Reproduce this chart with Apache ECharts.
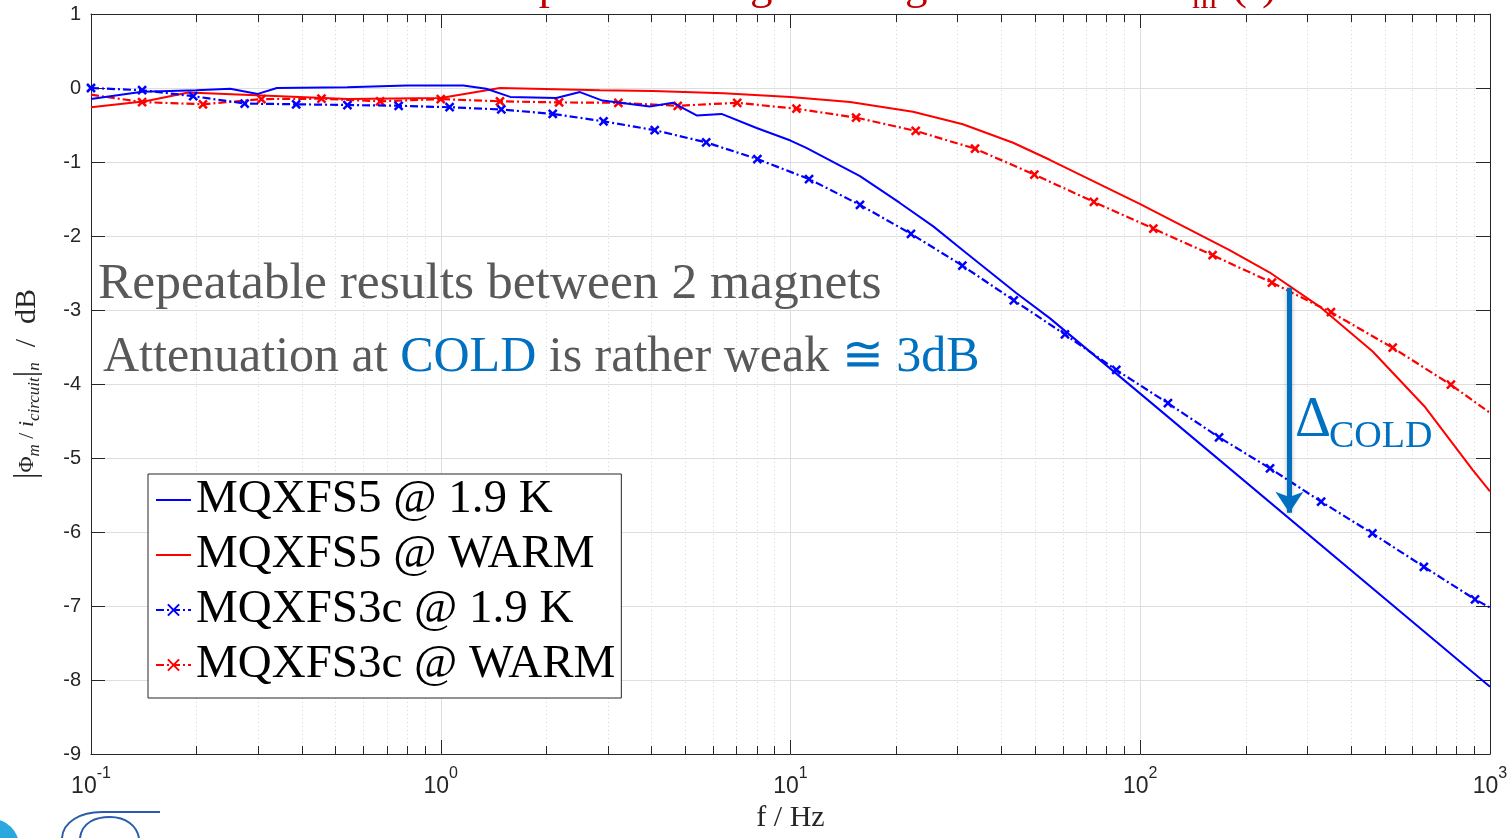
<!DOCTYPE html>
<html>
<head>
<meta charset="utf-8">
<script src="https://cdn.jsdelivr.net/npm/echarts@6/dist/echarts.min.js"></script>
<style>
  html, body { margin: 0; padding: 0; background: #fff; }
  #chart { width: 1512px; height: 838px; }
</style>
</head>
<body>
<div id="chart"></div>
<script>
// series names
var names = ['MQXFS5 @ 1.9 K', 'MQXFS5 @ WARM', 'MQXFS3c @ 1.9 K', 'MQXFS3c @ WARM'];

// MQXFS5 @ 1.9 K (solid blue)
var fS5Cold = [0.1, 0.14, 0.2, 0.25, 0.3, 0.34, 0.54, 0.8, 1.16, 1.35, 1.58, 2.14, 2.5, 2.9, 3.96, 4.62, 5.39, 6.35, 8.0, 10, 11.1, 15.8, 20.5, 25.6, 31.8, 44.2, 55.1, 100, 1000];
var vS5Cold = [-0.15, -0.05, -0.03, -0.01, -0.08, 0.0, 0.01, 0.035, 0.035, -0.01, -0.12, -0.135, -0.055, -0.17, -0.25, -0.2, -0.37, -0.35, -0.54, -0.71, -0.81, -1.19, -1.55, -1.87, -2.23, -2.77, -3.11, -4.13, -8.09];

// MQXFS5 @ WARM (solid red)
var fS5Warm = [0.1, 0.143, 0.19, 0.543, 1.0, 1.477, 2.85, 4.04, 6.43, 10, 14.8, 22.4, 31.1, 43.3, 55.1, 100, 180, 234, 325, 462, 649, 892, 1000];
var vS5Warm = [-0.26, -0.18, -0.06, -0.15, -0.135, 0.0, -0.03, -0.04, -0.07, -0.12, -0.19, -0.32, -0.49, -0.74, -0.97, -1.57, -2.19, -2.49, -2.95, -3.56, -4.30, -5.16, -5.45];

// MQXFS3c @ 1.9 K (dash-dot blue, x markers)
var fS3Cold = [0.1, 0.14, 0.196, 0.275, 0.386, 0.541, 0.758, 1.06, 1.49, 2.09, 2.92, 4.09, 5.74, 8.04, 11.3, 15.8, 22.1, 31.0, 43.5, 60.9, 85.4, 120, 168, 235, 329, 461, 647, 906, 1000];
var vS3Cold = [0.0, -0.03, -0.11, -0.21, -0.22, -0.23, -0.24, -0.26, -0.29, -0.35, -0.45, -0.57, -0.735, -0.96, -1.23, -1.58, -1.97, -2.40, -2.87, -3.33, -3.81, -4.26, -4.72, -5.14, -5.59, -6.02, -6.47, -6.91, -7.02];

// MQXFS3c @ WARM (dash-dot red, x markers)
var fS3Warm = [0.1, 0.14, 0.209, 0.307, 0.456, 0.671, 1.0, 1.477, 2.18, 3.22, 4.76, 7.04, 10.4, 15.4, 22.8, 33.7, 49.8, 73.7, 109, 161, 238, 351, 527, 773, 1000];
var vS3Warm = [-0.09, -0.19, -0.22, -0.15, -0.145, -0.18, -0.15, -0.18, -0.195, -0.2, -0.24, -0.2, -0.28, -0.40, -0.58, -0.82, -1.17, -1.54, -1.90, -2.26, -2.63, -3.03, -3.51, -4.01, -4.39];

// minor log grid positions
var minorF = [0.2, 0.3, 0.4, 0.5, 0.6, 0.7, 0.8, 0.9,
              2, 3, 4, 5, 6, 7, 8, 9,
              20, 30, 40, 50, 60, 70, 80, 90,
              200, 300, 400, 500, 600, 700, 800, 900];

// Delta_COLD arrow (frequency, from, to)
var arrowF = 267;
var arrowFrom = -2.70;
var arrowTo = -5.74;

var xMark = 'path://M0,0L10,10M10,0L0,10';
var blue = '#0000ff', red = '#ff0000', annot = '#0070c0', gray = '#595959';
var axisCol = '#262626';
var dashDot = [8, 3, 2, 3];

function pairs(f, v, noMarkEnds) {
  return f.map(function (x, i) {
    var item = { value: [x, v[i]] };
    if (noMarkEnds && (noMarkEnds.indexOf(i) >= 0)) item.symbol = 'none';
    return item;
  });
}

function supLabel(val) {
  var e = Math.round(Math.log10(val));
  return '{b|10}{s|' + e + '}';
}

var hidden = { color: 'rgba(0,0,0,0)', borderColor: 'rgba(0,0,0,0)', borderWidth: 0 };

var chart = echarts.init(document.getElementById('chart'));
var option = {
  animation: false,
  backgroundColor: '#fff',
  grid: { left: 91, right: 22, top: 14, bottom: 84 },
  legend: {
    data: [
      { name: names[0], itemStyle: hidden },
      { name: names[1], itemStyle: hidden },
      { name: names[2] },
      { name: names[3] }
    ],
    orient: 'vertical',
    left: 148, top: 474,
    itemWidth: 35, itemHeight: 14, itemGap: 7,
    padding: [2, 6, 9, 7],
    borderColor: axisCol, borderWidth: 1,
    backgroundColor: '#fff',
    selectedMode: false,
    textStyle: { fontFamily: 'Liberation Serif', fontSize: 47, color: '#000', lineHeight: 48 }
  },
  xAxis: [{
    type: 'log', logBase: 10, min: 0.1, max: 1000,
    name: 'f / Hz', nameLocation: 'middle', nameGap: 48,
    nameTextStyle: { fontFamily: 'Liberation Serif', fontSize: 30, color: axisCol },
    axisLine: { onZero: false, lineStyle: { color: axisCol, width: 1 } },
    axisTick: { inside: true, length: 14, lineStyle: { color: axisCol } },
    axisLabel: {
      margin: 12,
      formatter: supLabel,
      rich: {
        b: { fontFamily: 'Liberation Sans', fontSize: 23, color: axisCol, lineHeight: 32, verticalAlign: 'bottom' },
        s: { fontFamily: 'Liberation Sans', fontSize: 16, color: axisCol, lineHeight: 16, verticalAlign: 'top' }
      }
    },
    splitLine: { show: true, lineStyle: { color: '#dedede', width: 1 } }
  }, {
    type: 'log', logBase: 10, min: 0.1, max: 1000, position: 'top',
    axisLine: { onZero: false, lineStyle: { color: axisCol, width: 1 } },
    axisTick: { inside: true, length: 14, lineStyle: { color: axisCol } },
    axisLabel: { show: false },
    splitLine: { show: false }
  }],
  yAxis: [{
    type: 'value', min: -9, max: 1, interval: 1,
    name: '{v||}{f|Φ}{fs|m}{f| / }{fi|i}{fs|circuit}{v||}{fs|n}{u|  /  dB}',
    nameLocation: 'middle', nameGap: 48, nameRotate: 90,
    nameTextStyle: {
      rich: {
        v: { fontFamily: 'Liberation Serif', fontSize: 32, color: axisCol },
        f: { fontFamily: 'Liberation Serif', fontSize: 22, color: axisCol },
        fi: { fontFamily: 'Liberation Serif', fontSize: 22, fontStyle: 'italic', color: axisCol },
        fs: { fontFamily: 'Liberation Serif', fontSize: 17, fontStyle: 'italic', color: axisCol, verticalAlign: 'bottom' },
        u: { fontFamily: 'Liberation Serif', fontSize: 30, color: axisCol }
      }
    },
    axisLine: { show: true, onZero: false, lineStyle: { color: axisCol, width: 1 } },
    axisTick: { show: true, inside: true, length: 14, lineStyle: { color: axisCol } },
    axisLabel: { fontFamily: 'Liberation Sans', fontSize: 20, color: axisCol, margin: 10 },
    splitLine: { show: true, lineStyle: { color: '#dedede', width: 1 } }
  }, {
    type: 'value', min: -9, max: 1, interval: 1, position: 'right',
    axisLine: { show: true, onZero: false, lineStyle: { color: axisCol, width: 1 } },
    axisTick: { show: true, inside: true, length: 14, lineStyle: { color: axisCol } },
    axisLabel: { show: false },
    splitLine: { show: false }
  }],
  series: [{
    type: 'custom',
    name: 'minor',
    silent: true,
    clip: false,
    z: 1,
    data: minorF.map(function (x) { return [x, -9]; }),
    encode: { x: 0, y: 1 },
    renderItem: function (params, api) {
      var cs = params.coordSys;
      var x = Math.round(api.coord([api.value(0), -9])[0]) + 0.5;
      var top = cs.y, bottom = cs.y + cs.height;
      return {
        type: 'group',
        children: [
          { type: 'line', shape: { x1: x, y1: top, x2: x, y2: bottom }, style: { stroke: '#d4d4d4', lineWidth: 1, lineDash: [1, 3] } },
          { type: 'line', shape: { x1: x, y1: bottom, x2: x, y2: bottom - 8 }, style: { stroke: axisCol, lineWidth: 1 } },
          { type: 'line', shape: { x1: x, y1: top, x2: x, y2: top + 8 }, style: { stroke: axisCol, lineWidth: 1 } }
        ]
      };
    }
  }, {
    name: names[0], type: 'line', symbol: 'none', z: 5,
    data: pairs(fS5Cold, vS5Cold),
    lineStyle: { color: blue, width: 2 },
    itemStyle: { color: blue },
    markLine: {
      silent: true,
      symbol: ['none', 'arrow'],
      symbolSize: 21,
      label: { show: false },
      lineStyle: { color: annot, width: 5, type: 'solid', shadowBlur: 4, shadowColor: 'rgba(0,0,0,0.3)' },
      data: [[{ coord: [arrowF, arrowFrom] }, { coord: [arrowF, arrowTo] }]]
    }
  }, {
    name: names[1], type: 'line', symbol: 'none', z: 4,
    data: pairs(fS5Warm, vS5Warm),
    lineStyle: { color: red, width: 2 },
    itemStyle: { color: red }
  }, {
    name: names[2], type: 'line', z: 4,
    symbol: xMark, symbolSize: 8, showAllSymbol: true,
    data: pairs(fS3Cold, vS3Cold, [fS3Cold.length - 1]),
    lineStyle: { color: blue, width: 2.2, type: dashDot },
    itemStyle: { color: 'rgba(0,0,0,0)', borderColor: blue, borderWidth: 2.5 }
  }, {
    name: names[3], type: 'line', z: 3,
    symbol: xMark, symbolSize: 8, showAllSymbol: true,
    data: pairs(fS3Warm, vS3Warm, [0, fS3Warm.length - 1]),
    lineStyle: { color: red, width: 2.2, type: dashDot },
    itemStyle: { color: 'rgba(0,0,0,0)', borderColor: red, borderWidth: 2.5 }
  }],
  graphic: [
    // cut-off slide title
    { type: 'text', x: 1190, y: -13, z: 10,
      style: { text: 'Transfer function amplitude using the magnetic flux ItoB', align: 'right', verticalAlign: 'middle',
               font: '45px "Liberation Serif"', fill: '#c00000' } },
    { type: 'text', x: 1192, y: 0, z: 10,
      style: { text: 'm', align: 'left', verticalAlign: 'middle', font: '32px "Liberation Serif"', fill: '#c00000' } },
    { type: 'text', x: 1232, y: -13, z: 10,
      style: { text: '(f)', align: 'left', verticalAlign: 'middle', font: '45px "Liberation Serif"', fill: '#c00000' } },
    // annotations
    { type: 'text', x: 98, y: 284, z: 10,
      style: { text: 'Repeatable results between 2 magnets', align: 'left', verticalAlign: 'middle',
               font: '51.5px "Liberation Serif"', fill: gray } },
    { type: 'text', x: 103, y: 358, z: 10,
      style: {
        text: '{g|Attenuation at }{b|COLD}{g| is rather weak }{b|≅ 3dB}',
        align: 'left', verticalAlign: 'middle',
        rich: {
          g: { fontFamily: 'Liberation Serif', fontSize: 50, fill: gray },
          b: { fontFamily: 'Liberation Serif', fontSize: 50, fill: annot }
        }
      } },
    { type: 'text', x: 1295, y: 421, z: 10,
      style: { text: 'Δ', align: 'left', verticalAlign: 'middle', font: '56px "Liberation Serif"', fill: annot } },
    { type: 'text', x: 1329, y: 437, z: 10,
      style: { text: 'COLD', align: 'left', verticalAlign: 'middle', font: '38px "Liberation Serif"', fill: annot } },
    // logo fragment bottom-left
    { type: 'circle', shape: { cx: -8, cy: 846, r: 27 }, style: { fill: '#2aa7de' }, z: 10 },
    { type: 'bezierCurve', z: 10,
      shape: { x1: 62, y1: 838, cpx1: 63, cpy1: 822, cpx2: 80, cpy2: 812, x2: 102, y2: 812 },
      style: { stroke: '#2a5caa', lineWidth: 2, fill: 'none' } },
    { type: 'line', z: 10, shape: { x1: 102, y1: 812, x2: 160, y2: 812 },
      style: { stroke: '#2a5caa', lineWidth: 2 } },
    { type: 'bezierCurve', z: 10,
      shape: { x1: 80, y1: 838, cpx1: 82, cpy1: 822, cpx2: 96, cpy2: 817, x2: 110, y2: 817 },
      style: { stroke: '#2a5caa', lineWidth: 2, fill: 'none' } },
    { type: 'bezierCurve', z: 10,
      shape: { x1: 110, y1: 817, cpx1: 126, cpy1: 817, cpx2: 137, cpy2: 826, x2: 139, y2: 838 },
      style: { stroke: '#2a5caa', lineWidth: 2, fill: 'none' } }
  ]
};
chart.setOption(option);
</script>
</body>
</html>
